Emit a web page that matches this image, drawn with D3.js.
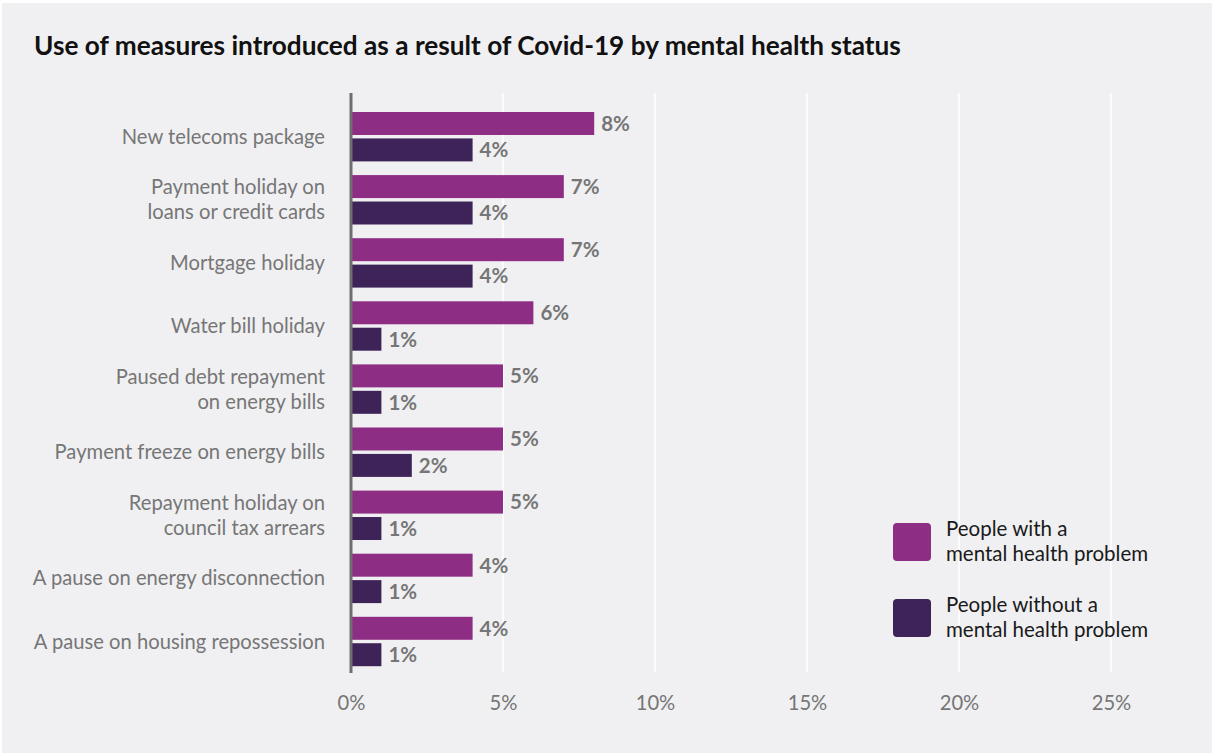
<!DOCTYPE html>
<html>
<head>
<meta charset="utf-8">
<script src="https://cdn.jsdelivr.net/npm/d3@7"></script>
<style>
  body { margin: 0; background: #fff; }
  svg { display: block; font-family: "Lato", "Open Sans", sans-serif; }
</style>
</head>
<body>
<svg id="main" width="1212" height="755"></svg>
<script>
"use strict";

// data
const categories = [
  ["New telecoms package"],
  ["Payment holiday on", "loans or credit cards"],
  ["Mortgage holiday"],
  ["Water bill holiday"],
  ["Paused debt repayment", "on energy bills"],
  ["Payment freeze on energy bills"],
  ["Repayment holiday on", "council tax arrears"],
  ["A pause on energy disconnection"],
  ["A pause on housing repossession"]
];
const withProblem = [8, 7, 7, 6, 5, 5, 5, 4, 4];
const withoutProblem = [4, 4, 4, 1, 1, 2, 1, 1, 1];
const seriesNames = [
  ["People with a", "mental health problem"],
  ["People without a", "mental health problem"]
];
const xTicks = [0, 5, 10, 15, 20, 25];

// configurations
const colors = ["#8e2d84", "#3e2359"];
const bg = "#f0f0f2";
const grey = "#767676";

const mySvg = d3.select("#main");

mySvg.append("rect")
  .attr("x", 2).attr("y", 3)
  .attr("width", 1210).attr("height", 750)
  .attr("fill", bg);

mySvg.append("text")
  .attr("x", 34).attr("y", 55)
  .attr("font-size", 26.2)
  .attr("font-weight", 700)
  .attr("fill", "#111")
  .text("Use of measures introduced as a result of Covid-19 by mental health status");

const x = d3.scaleLinear().domain([0, 25]).range([351, 1111]);
const y = d3.scaleBand()
  .domain(d3.range(categories.length))
  .range([98.3, 679.9])
  .paddingInner(0.217)
  .paddingOuter(0.217);
const ySub = d3.scaleBand().domain([0, 1]).range([0, y.bandwidth()]).paddingInner(0.13);

// grid
mySvg.append("g")
  .selectAll("line")
  .data(xTicks.slice(1))
  .join("line")
  .attr("x1", d => x(d)).attr("x2", d => x(d))
  .attr("y1", 93).attr("y2", 672)
  .attr("stroke", "#ffffff")
  .attr("stroke-width", 1.5);

// x axis labels
const xAxis = mySvg.append("g")
  .attr("transform", "translate(0,710)")
  .call(d3.axisBottom(x).tickValues(xTicks).tickFormat(d => d + "%").tickSize(0).tickPadding(0));
xAxis.select(".domain").remove();
xAxis.selectAll("text")
  .attr("dy", 0)
  .attr("font-family", "Lato, sans-serif")
  .attr("font-size", 20.2)
  .attr("fill", grey);

// bars
const rows = categories.map((c, i) => ({ i, label: c, vals: [withProblem[i], withoutProblem[i]] }));
const group = mySvg.append("g")
  .selectAll("g")
  .data(rows)
  .join("g")
  .attr("transform", d => `translate(0,${y(d.i)})`);

group.selectAll("rect")
  .data(d => d.vals)
  .join("rect")
  .attr("x", x(0))
  .attr("y", (d, j) => ySub(j))
  .attr("width", d => x(d) - x(0))
  .attr("height", ySub.bandwidth())
  .attr("fill", (d, j) => colors[j]);

group.selectAll("text.val")
  .data(d => d.vals)
  .join("text")
  .attr("class", "val")
  .attr("x", d => x(d) + 7)
  .attr("y", (d, j) => ySub(j) + ySub.bandwidth() / 2)
  .attr("dy", "0.36em")
  .attr("font-size", 20.5)
  .attr("font-weight", 700)
  .attr("fill", grey)
  .text(d => d + "%");

// category labels
const lab = group.append("text")
  .attr("text-anchor", "end")
  .attr("font-size", 20.2)
  .attr("fill", grey)
  .attr("y", y.bandwidth() / 2);
lab.selectAll("tspan")
  .data(d => d.label)
  .join("tspan")
  .attr("x", 325)
  .attr("dy", (t, k, nodes) => k === 0 ? (0.35 - (nodes.length - 1) * 0.62) + "em" : "1.24em")
  .text(t => t);

// zero axis line
mySvg.append("line")
  .attr("x1", x(0)).attr("x2", x(0))
  .attr("y1", 93).attr("y2", 673)
  .attr("stroke", "#6e6e6e")
  .attr("stroke-width", 3);

// legend
const legend = mySvg.append("g")
  .selectAll("g")
  .data(seriesNames)
  .join("g")
  .attr("transform", (d, i) => `translate(893,${523 + i * 76})`);
legend.append("rect")
  .attr("width", 38).attr("height", 38)
  .attr("rx", 4)
  .attr("fill", (d, i) => colors[i]);
const legText = legend.append("text")
  .attr("font-size", 20.5)
  .attr("fill", "#1a1a1a");
legText.selectAll("tspan")
  .data(d => d)
  .join("tspan")
  .attr("x", (t, k, nodes) => 53 + nodes.length * 0)
  .attr("y", (t, k) => 13 + k * 25)
  .text(t => t);
</script>
</body>
</html>
